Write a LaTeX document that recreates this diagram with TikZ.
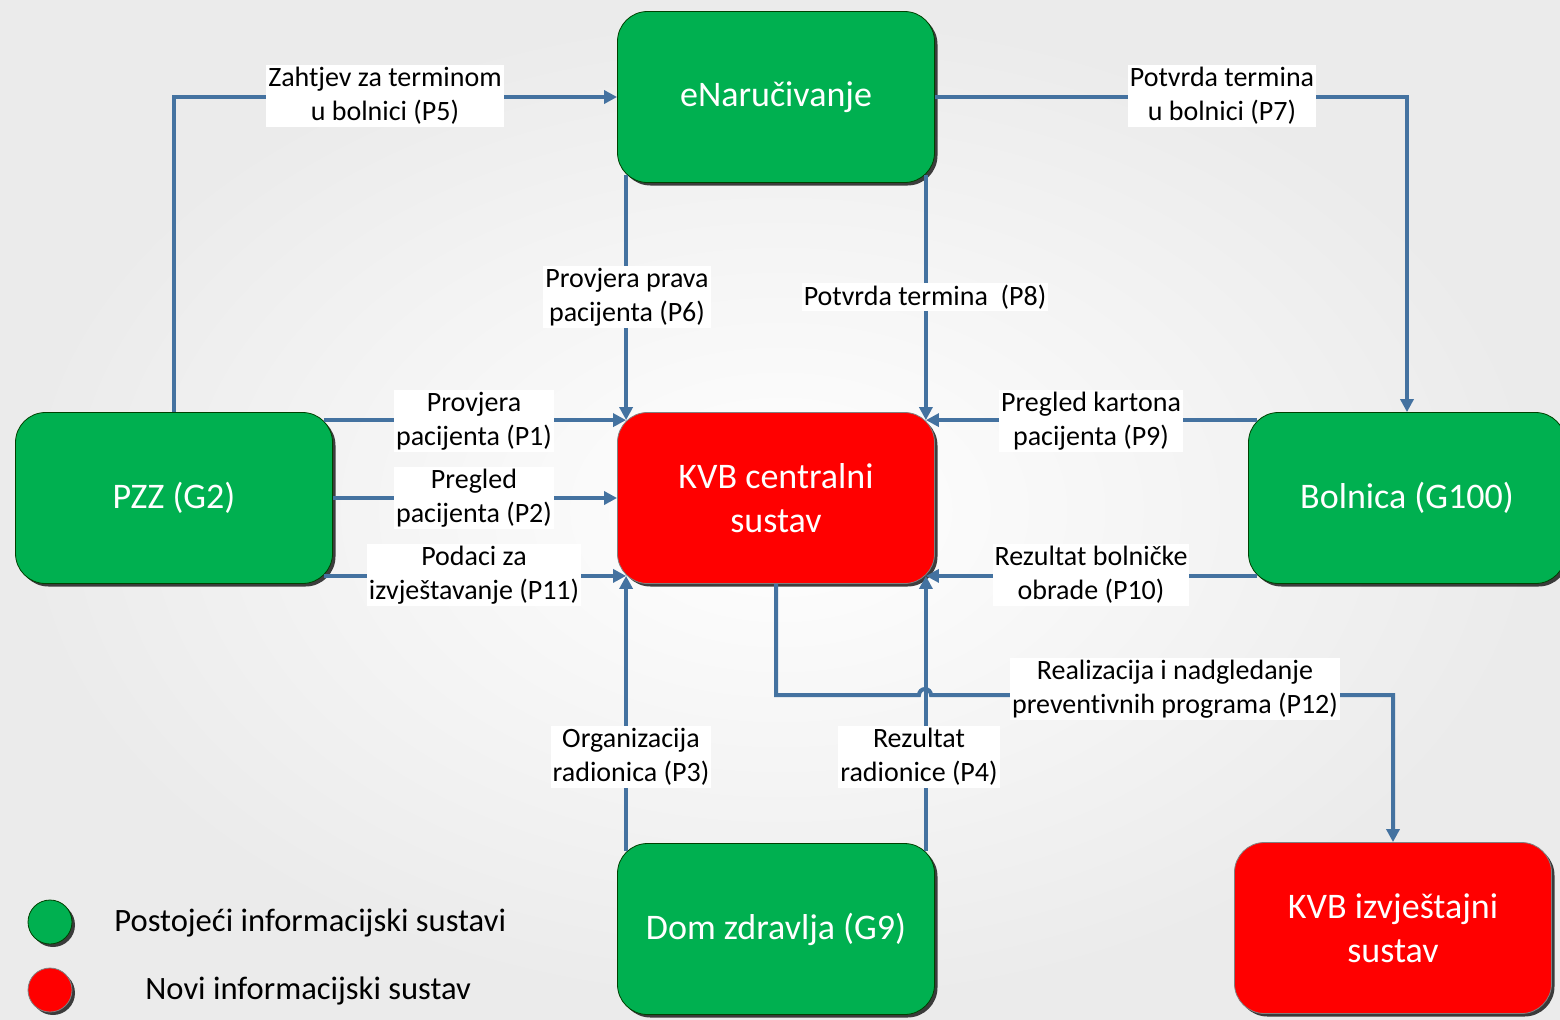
\documentclass[tikz,border=0pt]{standalone}
\usepackage{fontspec}
\setmainfont{Carlito}[Ligatures=NoCommon]
\usetikzlibrary{arrows.meta,shadows}
\definecolor{sysgreen}{RGB}{0,176,80}
\definecolor{sysred}{RGB}{255,0,0}
\definecolor{flowblue}{RGB}{68,114,160}

\begin{document}
\begin{tikzpicture}[x=0.5pt,y=-0.5pt,
    every node/.style={font=\fontsize{14}{17}\selectfont},
    shadowed/.style={drop shadow={shadow xshift=1.5pt,shadow yshift=-1.5pt,opacity=.75,fill=black}},
    sysbox/.style={shadowed,rounded corners=15pt,minimum width=158.5pt,minimum height=85.5pt,
      align=center,text=white,font=\fontsize{18}{22}\selectfont},
    old/.style={sysbox,fill=sysgreen,draw=green!25!black},
    new/.style={sysbox,fill=sysred,draw=black!50},
    flow/.style={draw=flowblue,line width=2pt,-{Triangle[length=6.5pt,width=6.5pt]}},
    lbl/.style={fill=white,align=center,inner sep=1pt}]

  \shade[inner color=white,outer color=black!8] (0,0) rectangle (1560,1019);
  \useasboundingbox (0,0) rectangle (1560,1019);

  \node[old] (enar) at (776,97) {eNaručivanje};
  \node[new] (kvb) at (776,498) {KVB centralni\\sustav};
  \node[old] (pzz) at (174,498) {PZZ (G2)};
  \node[old] (bol) at (1407,498) {Bolnica (G100)};
  \node[old] (dom) at (776,929) {Dom zdravlja (G9)};
  \node[new] (kvbi) at (1393,928) {KVB izvještajni\\sustav};

  \draw[flow] (pzz.north) |- (enar.west);
  \draw[flow] (enar.east) -| (bol.north);
  \draw[flow] ([shift={(9,-8)}]enar.south west) -- ([shift={(9,8)}]kvb.north west);
  \draw[flow] ([shift={(-9,-8)}]enar.south east) -- ([shift={(-9,8)}]kvb.north east);
  \draw[flow] ([shift={(-9,8)}]pzz.north east) -- ([shift={(9,8)}]kvb.north west);
  \draw[flow] (pzz.east) -- (kvb.west);
  \draw[flow] ([shift={(-9,-8)}]pzz.south east) -- ([shift={(9,-8)}]kvb.south west);
  \draw[flow] ([shift={(9,8)}]bol.north west) -- ([shift={(-9,8)}]kvb.north east);
  \draw[flow] ([shift={(9,-8)}]bol.south west) -- ([shift={(-9,-8)}]kvb.south east);
  \draw[flow] ([shift={(9,8)}]dom.north west) -- ([shift={(9,-8)}]kvb.south west);
  \draw[flow] ([shift={(-9,8)}]dom.north east) -- ([shift={(-9,-8)}]kvb.south east);
  \draw[flow] (kvb.south) |- (919,695) arc[start angle=180,end angle=360,radius=6] -| (kvbi.north);

  \node[lbl] (t5) at (385,96) {Zahtjev za terminom\\u bolnici (P5)};
  \node[lbl] (t7) at (1222,96) {Potvrda termina\\u bolnici (P7)};
  \node[lbl] (t6) at (627,297) {Provjera prava\\pacijenta (P6)};
  \node[lbl] (t8) at (925,297) {Potvrda termina~~(P8)};
  \node[lbl] (t1) at (474,421) {Provjera\\pacijenta (P1)};
  \node[lbl] (t2) at (474,498) {Pregled\\pacijenta (P2)};
  \node[lbl] (t11) at (474,575) {Podaci za\\izvještavanje (P11)};
  \node[lbl] (t9) at (1091,421) {Pregled kartona\\pacijenta (P9)};
  \node[lbl] (t10) at (1091,575) {Rezultat bolničke\\obrade (P10)};
  \node[lbl] (t3) at (631,757) {Organizacija\\radionica (P3)};
  \node[lbl] (t4) at (919,757) {Rezultat\\radionice (P4)};
  \node[lbl] (t12) at (1175,689) {Realizacija i nadgledanje\\preventivnih programa (P12)};

  % legend
  \node[shadowed,circle,minimum size=22pt,fill=sysgreen,draw=green!25!black] (lgold) at (50,922) {};
  \node[shadowed,circle,minimum size=22pt,fill=sysred,draw=black!50] (lgnew) at (50,990) {};
  \node[anchor=base west,inner sep=0pt,font=\fontsize{16.3}{19}\selectfont] (lgtold) at (114,931) {Postojeći informacijski sustavi};
  \node[anchor=base west,inner sep=0pt,font=\fontsize{16.3}{19}\selectfont] (lgtnew) at (145,999) {Novi informacijski sustav};
\end{tikzpicture}
\end{document}
